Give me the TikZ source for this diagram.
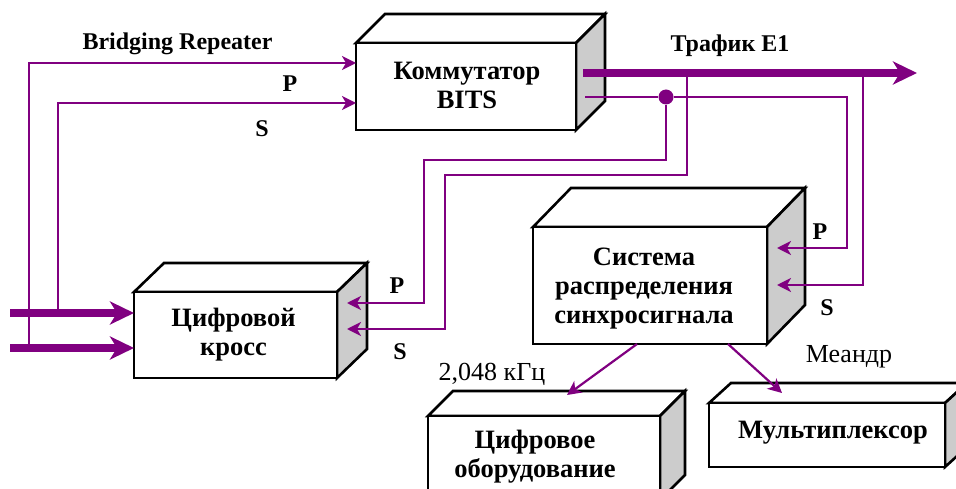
\documentclass[tikz,border=0pt]{standalone}
\usepackage{fontspec}
\setmainfont{Liberation Serif}
\usetikzlibrary{arrows.meta,calc}
\definecolor{sig}{HTML}{800080}
\definecolor{sidegrey}{HTML}{CCCCCC}
\tikzset{
  boxline/.style={draw=black, line width=2.6pt, line join=miter},
  topface/.style={boxline, fill=white},
  sideface/.style={boxline, fill=sidegrey},
  frontbox/.style={boxline, fill=white, rectangle, inner sep=0pt, outer sep=0pt},
  boxtext/.style={align=center, inner sep=0pt, font=\bfseries\fontsize{26.5}{29}\selectfont},
  sigline/.style={draw=sig, line width=2.2pt},
  sigarrow/.style={sigline, -{Stealth[length=14pt,width=14pt,inset=4pt]}},
  bigarrow/.style={draw=sig, line width=8pt, -{Stealth[length=24pt,width=23pt,inset=7pt]}},
  lbl/.style={font=\bfseries\fontsize{24}{28}\selectfont, anchor=base, inner sep=0pt},
  rlbl/.style={font=\fontsize{26}{28}\selectfont, anchor=base, inner sep=0pt},
  joint/.style={circle, fill=sig, minimum size=15pt, inner sep=0pt},
}
% name, x1, y1, x2, y2, dx, dy(up), text, text offset
\newcommand\ibox[9]{%
  \draw[topface] (#2,#3) -- (#2+#6,#3-#7) -- (#4+#6,#3-#7) -- (#4,#3) -- cycle;
  \draw[sideface] (#4,#3) -- (#4+#6,#3-#7) -- (#4+#6,#5-#7) -- (#4,#5) -- cycle;
  \node[frontbox, minimum width=#4-#2, minimum height=#5-#3] (#1) at ({(#2+#4)/2},{(#3+#5)/2}) {};
  \node[boxtext] (#1-txt) at ($(#1.center)+(#9)$) {#8};
}
\begin{document}
\begin{tikzpicture}[x=1pt,y=-1pt]
\useasboundingbox (0,0) rectangle (956,489);
\clip (0,0) rectangle (956,489);

% boxes
\ibox{b1}{356}{43}{576}{130}{29}{29}{Коммутатор\\BITS}{1,-1}
\ibox{b2}{134}{292}{337}{378}{30}{29}{Цифровой\\кросс}{-2,0}
\ibox{b3}{533}{227}{767}{344}{38}{39}{Система\\распределения\\синхросигнала}{-6,3}
\ibox{b4}{428}{416}{660}{500}{25}{25}{Цифровое\\оборудование}{-9,-1}
\ibox{b5}{709}{403}{945}{467}{22}{20}{Мультиплексор}{6,-2}

% connection points
\coordinate (in1) at (10,313);
\coordinate (in2) at (10,348);
\coordinate (tap1) at (58,313);
\coordinate (tap2) at (29,348);
\coordinate (e1s) at ($(b1.north east)+(7,30)$);
\coordinate (e1e) at (917,73);
\coordinate (tapA) at (687,73);
\coordinate (tapB) at (863,73);
\coordinate (b1o) at ($(b1.north east)+(9,54)$);
\coordinate (b3p) at ($(b3.north east)+(10,21)$);
\coordinate (b3s) at ($(b3.north east)+(10,58)$);
\coordinate (b2p) at ($(b2.north east)+(10,11)$);
\coordinate (b2s) at ($(b2.north east)+(10,37)$);
\coordinate (b3a) at ($(b3.south west)+(104,0)$);
\coordinate (b3b) at ($(b3.south west)+(195,0)$);
\coordinate (b4t) at ($(b4.north west)+(139,-21)$);
\coordinate (b5t) at ($(b5.north west)+(73,-10)$);

% thick traffic arrows
\draw[bigarrow] (in1) -- ($(b2.north west)+(0,21)$);
\draw[bigarrow] (in2) -- ($(b2.north west)+(0,56)$);
\draw[bigarrow] (e1s) -- (e1e);

% bridging repeater lines
\draw[sigarrow] (tap2) |- ($(b1.north west)+(0,20)$);
\draw[sigarrow] (tap1) |- ($(b1.north west)+(0,60)$);

% outputs of BITS
\node[joint] (dot) at (666,97) {};
\draw[sigarrow] (b1o) -- (dot) -- (847,97) |- (b3p);
\draw[sigarrow] (tapB) |- (b3s);
\draw[sigarrow] (dot) |- (424,160) |- (b2p);
\draw[sigarrow] (tapA) |- (445,175) |- (b2s);

% synchro distribution outputs
\draw[sigarrow] (b3a) -- (b4t);
\draw[sigarrow] (b3b) -- (b5t);

% labels
\node[lbl] (lbr) at (177.5,50) {Bridging Repeater};
\node[lbl] (lp1) at (290,92) {P};
\node[lbl] (ls1) at (262,137) {S};
\node[lbl] (le1) at (730,52) {Трафик Е1};
\node[lbl] (lp2) at (397,293) {P};
\node[lbl] (ls2) at (400,359) {S};
\node[lbl] (lp3) at (820,240) {P};
\node[lbl] (ls3) at (827,315) {S};
\node[rlbl] (lf) at (492,380) {2,048 кГц};
\node[rlbl] (lm) at (849,362) {Меандр};
\end{tikzpicture}
\end{document}
